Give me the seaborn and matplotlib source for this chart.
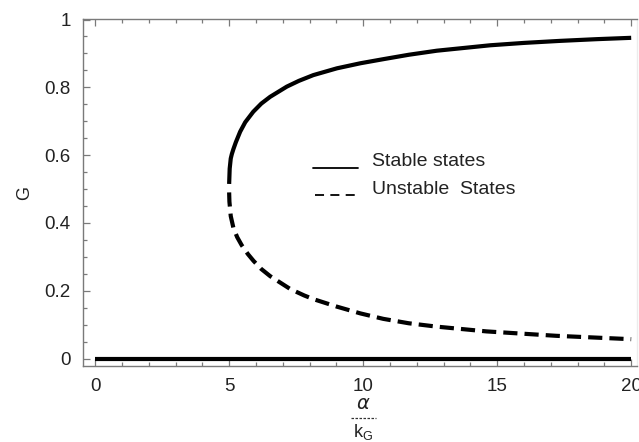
import numpy as np
import pandas as pd
import seaborn as sns
import matplotlib.pyplot as plt
from matplotlib.lines import Line2D
from matplotlib.ticker import MultipleLocator

# Data
stable_x = [5.0, 5.02, 5.06, 5.1, 5.16, 5.25, 5.41, 5.6, 5.9, 6.2, 6.53, 7.15, 7.6, 8.14, 9.02,
            9.9, 10.75, 11.7, 12.75, 14.74, 16.0, 17.35, 18.7, 20.0]
stable_g = [0.515, 0.56, 0.59, 0.603, 0.618, 0.638, 0.669, 0.697, 0.728, 0.752, 0.772, 0.802, 0.819,
            0.836, 0.856, 0.871, 0.883, 0.896, 0.908, 0.924, 0.931, 0.937, 0.942, 0.946]
unstable_x = [5.0, 5.01, 5.06, 5.16, 5.3, 5.47, 5.7, 5.91, 6.2, 6.53, 7.28, 7.8, 8.15, 9.02, 9.9,
              10.75, 11.7, 12.75, 14.6, 16.0, 17.2, 18.6, 20.0]
unstable_g = [0.49, 0.463, 0.42, 0.385, 0.358, 0.334, 0.308, 0.288, 0.264, 0.243, 0.205, 0.186, 0.175,
              0.153, 0.133, 0.117, 0.104, 0.094, 0.080, 0.073, 0.067, 0.062, 0.057]
trivial_x = [0.0, 20.0]
trivial_g = [0.0, 0.0]

x_ticks = [0, 5, 10, 15, 20]
y_ticks = [0, 0.2, 0.4, 0.6, 0.8, 1]
y_ticklabels = ["0", "0.2", "0.4", "0.6", "0.8", "1"]
legend_labels = ["Stable states", "Unstable  States"]

sns.set_theme(style="white")
plt.rcParams['font.family'] = ['Liberation Sans', 'DejaVu Sans']

fig = plt.figure(figsize=(6.39, 4.42), dpi=100)
ax = fig.add_axes([0.130, 0.172, 0.867, 0.785])

stable_df = pd.DataFrame({"x": stable_x, "G": stable_g})
unstable_df = pd.DataFrame({"x": unstable_x, "G": unstable_g})
trivial_df = pd.DataFrame({"x": trivial_x, "G": trivial_g})

sns.lineplot(data=stable_df, x="x", y="G", ax=ax, color="black", lw=3.0,
             estimator=None, sort=False, solid_capstyle="butt", solid_joinstyle="round")
sns.lineplot(data=unstable_df, x="x", y="G", ax=ax, color="black", lw=3.0,
             estimator=None, sort=False, dashes=False)
ax.lines[-1].set_dashes((3.4, 1.7))
ax.lines[-1].set_dash_capstyle("butt")
ax.lines[-1].set_dash_joinstyle("round")
sns.lineplot(data=trivial_df, x="x", y="G", ax=ax, color="black", lw=3.0,
             estimator=None, sort=False, solid_capstyle="butt")

ax.set_xlim(-0.45, 20.22)
ax.set_ylim(-0.022, 1.0015)
ax.set_xticks(x_ticks)
ax.set_xticklabels([str(t) for t in x_ticks])
ax.set_yticks(y_ticks)
ax.set_yticklabels(y_ticklabels)
ax.xaxis.set_minor_locator(MultipleLocator(1))
ax.yaxis.set_minor_locator(MultipleLocator(0.05))
ax.set_xlabel("")
ax.set_ylabel("")

spine_c = "#7a7a7a"
for s in ["left", "bottom", "top"]:
    ax.spines[s].set_color(spine_c)
    ax.spines[s].set_linewidth(1.0)
ax.spines["right"].set_color("#ececec")
ax.spines["right"].set_linewidth(1.0)

ax.tick_params(which="both", direction="in", color=spine_c, width=0.9,
               top=True, bottom=True, left=True, right=False,
               labeltop=False, labelright=False)
ax.tick_params(which="major", length=5, labelsize=13.5, labelcolor="#222222")
ax.tick_params(which="minor", length=3)
ax.tick_params(axis="y", which="major", pad=9)
ax.tick_params(axis="x", which="major", pad=9)

# Legend drawn manually
ax.add_line(Line2D([0.415, 0.496], [0.571, 0.571], transform=ax.transAxes,
                   color="black", lw=1.3))
ax.add_line(Line2D([0.419, 0.500], [0.493, 0.493], transform=ax.transAxes,
                   color="black", lw=1.3, dashes=(5, 3.5)))
ax.text(0.522, 0.575, legend_labels[0], transform=ax.transAxes, fontsize=14,
        va="baseline", ha="left", color="#222222")
ax.text(0.522, 0.495, legend_labels[1], transform=ax.transAxes, fontsize=14,
        va="baseline", ha="left", color="#222222")

# Axis labels
fig.text(0.039, 0.563, "G", rotation=90, fontsize=13, ha="center", va="center", color="#222222")
fig.text(0.568, 0.086, r"$\alpha$", fontsize=14, ha="center", va="center",
         family=["DejaVu Serif"], color="#222222")
fig.add_artist(Line2D([0.549, 0.589], [0.0543, 0.0543], transform=fig.transFigure,
                      color="#333333", lw=0.9, dashes=(2, 1.2)))
fig.text(0.568, 0.022, r"k$_{\mathregular{G}}$", fontsize=13, ha="center", va="center", color="#222222")

fig.savefig("out.png", dpi=100)
